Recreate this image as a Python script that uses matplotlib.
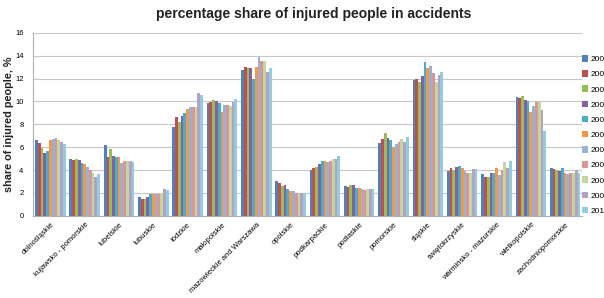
"""Share of injured people in accidents by voivodeship, 2000-2010"""

import numpy as np
import matplotlib
matplotlib.use('Agg')
import matplotlib.pyplot as plt

regions = ['dolnośląskie', 'kujawsko - pomorskie', 'lubelskie', 'lubuskie', 'łódzkie',
           'małopolskie', 'mazowieckie and Warszawa', 'opolskie', 'podkarpackie',
           'podlaskie', 'pomorskie', 'śląskie', 'świętokrzyskie',
           'warmińsko - mazurskie', 'wielkopolskie', 'zachodniopomorskie']
years = ['2000', '2001', '2002', '2003', '2004', '2005', '2006', '2007', '2008', '2009', '2010']

# one list per region, values for 2000..2010
dolnoslaskie = [6.6, 6.4, 5.9, 5.5, 5.7, 6.65, 6.7, 6.8, 6.6, 6.45, 6.3]
kujawsko = [4.95, 4.9, 4.95, 4.85, 4.65, 4.5, 4.3, 4.0, 3.78, 3.42, 3.62]
lubelskie = [6.15, 5.1, 5.83, 5.25, 5.1, 5.16, 4.65, 4.8, 4.78, 4.75, 4.66]
lubuskie = [1.6, 1.5, 1.5, 1.6, 1.87, 1.9, 1.9, 1.87, 2.0, 2.3, 2.22]
lodzkie = [7.73, 8.6, 8.2, 8.72, 9.0, 9.36, 9.5, 9.53, 9.53, 10.7, 10.6]
malopolskie = [9.83, 9.97, 10.08, 10.0, 9.83, 9.1, 9.65, 9.7, 9.6, 9.97, 10.25]
mazowieckie = [12.75, 13.0, 12.95, 12.9, 12.0, 13.0, 13.85, 13.55, 13.5, 12.6, 12.9]
opolskie = [3.03, 2.83, 2.6, 2.68, 2.36, 2.16, 2.18, 2.02, 2.02, 2.02, 2.02]
podkarpackie = [3.97, 4.17, 4.23, 4.55, 4.78, 4.8, 4.72, 4.8, 4.93, 5.0, 5.22]
podlaskie = [2.62, 2.5, 2.7, 2.7, 2.42, 2.42, 2.36, 2.25, 2.36, 2.36, 2.3]
pomorskie = [6.38, 6.7, 7.2, 6.76, 6.62, 6.03, 6.27, 6.44, 6.73, 6.44, 6.9]
slaskie = [11.87, 11.98, 11.72, 12.22, 13.47, 12.9, 13.1, 12.45, 11.72, 12.33, 12.55]
swietokrzyskie = [3.9, 4.14, 4.0, 4.22, 4.34, 4.14, 3.94, 3.76, 3.76, 4.05, 4.05]
warminsko = [3.62, 3.42, 3.42, 3.78, 3.78, 4.2, 3.56, 4.0, 4.68, 4.14, 4.75]
wielkopolskie = [10.35, 10.3, 10.47, 10.12, 10.03, 9.1, 9.62, 9.97, 9.97, 9.24, 7.43]
zachodniopomorskie = [4.14, 4.05, 4.0, 3.94, 4.14, 3.7, 3.62, 3.76, 3.76, 4.0, 3.76]

values = np.array([dolnoslaskie, kujawsko, lubelskie, lubuskie, lodzkie, malopolskie,
                   mazowieckie, opolskie, podkarpackie, podlaskie, pomorskie, slaskie,
                   swietokrzyskie, warminsko, wielkopolskie, zachodniopomorskie])

# Excel 2007 style palette
colors = ['#4F81BD', '#C0504D', '#9BBB59', '#8064A2', '#4BACC6', '#F79646',
          '#95B3D7', '#D99694', '#C3D69B', '#B3A2C7', '#93CDDD']

plt.rcParams['font.family'] = ['Liberation Sans', 'DejaVu Sans']

fig = plt.figure(figsize=(6.04, 2.98), dpi=100)
ax = fig.add_axes([0.055, 0.276, 0.909, 0.614])

x = np.arange(len(regions))
n = len(years)
width = 0.89 / n
for i, year in enumerate(years):
    ax.bar(x - 0.445 + width * (i + 0.5), values[:, i], width=width,
           color=colors[i], label=year, zorder=3)

ax.set_ylim(0, 16)
ax.set_yticks(range(0, 17, 2))
ax.set_xlim(-0.5, len(regions) - 0.5)
ax.grid(axis='y', color='#c8c8c8', linewidth=0.8, zorder=0)
for side in ['top', 'right']:
    ax.spines[side].set_visible(False)
for side in ['left', 'bottom']:
    ax.spines[side].set_color('#b0b0b0')

ax.set_xticks(x)
ax.set_xticklabels(regions, rotation=45, ha='right', rotation_mode='anchor', fontsize=5.5)
ax.tick_params(axis='x', length=0, pad=4)
ax.tick_params(axis='y', labelsize=5.5, length=0, pad=7)
ax.set_ylabel('share of injured people, %', fontsize=7.8, fontweight='bold', labelpad=1,
              color='#222222')

fig.suptitle('percentage share of injured people in accidents', fontsize=10,
             fontweight='bold', x=0.52, y=0.975, color='#222222')

fig.legend(loc='upper left', bbox_to_anchor=(0.963, 0.815), fontsize=6,
           frameon=False, handlelength=0.8, handleheight=0.8, labelspacing=0.85,
           handletextpad=0.25, borderaxespad=0, borderpad=0)

plt.savefig('out.png', dpi=100)
